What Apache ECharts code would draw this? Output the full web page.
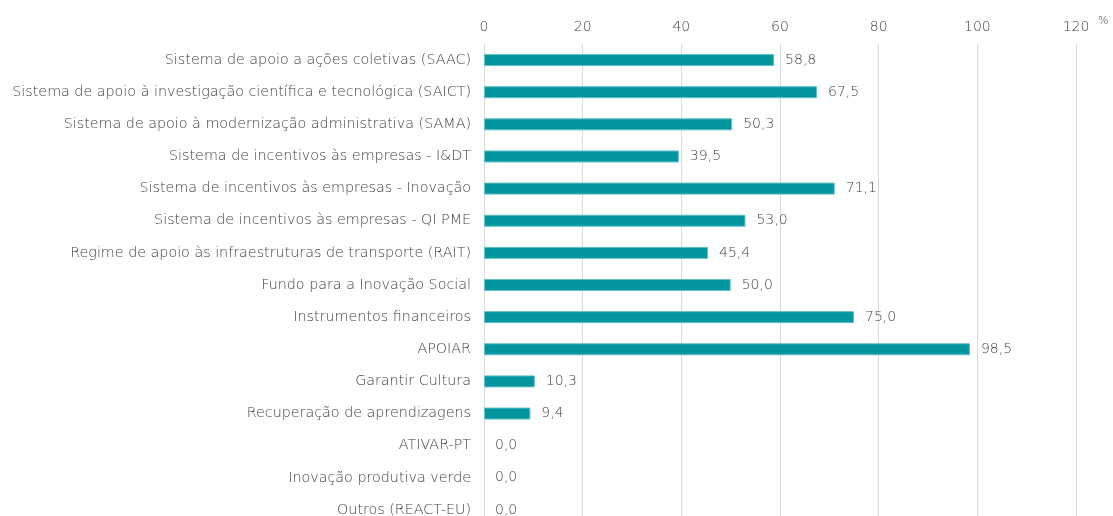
<!DOCTYPE html>
<html>
<head>
<meta charset="utf-8">
<script src="https://cdn.jsdelivr.net/npm/echarts@6/dist/echarts.min.js"></script>
<style>
  html, body { margin: 0; padding: 0; background: #fff; }
  #chart { width: 1113px; height: 516px; }
</style>
</head>
<body>
<div id="chart"></div>
<script>
var categories = [
    'Sistema de apoio a ações coletivas (SAAC)',
    'Sistema de apoio à investigação científica e tecnológica (SAICT)',
    'Sistema de apoio à modernização administrativa (SAMA)',
    'Sistema de incentivos às empresas - I&DT',
    'Sistema de incentivos às empresas - Inovação',
    'Sistema de incentivos às empresas - QI PME',
    'Regime de apoio às infraestruturas de transporte (RAIT)',
    'Fundo para a Inovação Social',
    'Instrumentos financeiros',
    'APOIAR',
    'Garantir Cultura',
    'Recuperação de aprendizagens',
    'ATIVAR-PT',
    'Inovação produtiva verde',
    'Outros (REACT-EU)'
];
var values = [58.8, 67.5, 50.3, 39.5, 71.1, 53.0, 45.4, 50.0, 75.0, 98.5, 10.3, 9.4, 0.0, 0.0, 0.0];
var xTicks = { min: 0, max: 120, interval: 20 };

var chart = echarts.init(document.getElementById('chart'));
var textColor = '#3f3f3f';
var font = '"DejaVu Sans", sans-serif';
var weight = 200;

var option = {
    animation: false,
    textStyle: { fontFamily: font, fontWeight: weight },
    grid: { left: 484, right: 37, top: 44, height: 482, outerBoundsMode: 'none' },
    xAxis: {
        type: 'value',
        position: 'top',
        min: xTicks.min,
        max: xTicks.max,
        interval: xTicks.interval,
        name: '%',
        nameLocation: 'end',
        nameGap: 22,
        nameTextStyle: { color: textColor, fontSize: 11, fontFamily: font, fontWeight: weight, verticalAlign: 'bottom', padding: [0, 0, 17, 0] },
        axisLine: { show: false },
        axisTick: { show: false },
        axisLabel: { color: textColor, fontSize: 14, margin: 10, fontFamily: font, fontWeight: weight },
        splitLine: { lineStyle: { color: '#d9d9d9', width: 1 } }
    },
    yAxis: {
        type: 'category',
        inverse: true,
        data: categories,
        axisLine: { show: false },
        axisTick: { show: false },
        axisLabel: { color: textColor, fontSize: 14.3, margin: 13, fontFamily: font, fontWeight: weight }
    },
    series: [{
        type: 'bar',
        data: values.map(function (v) {
            return v > 0 ? v : { value: v, itemStyle: { borderWidth: 0 } };
        }),
        barWidth: 12,
        itemStyle: { color: '#03969f', borderColor: '#62c0c6', borderWidth: 1 },
        label: {
            show: true,
            position: 'right',
            distance: 11,
            color: textColor,
            fontSize: 14,
            fontFamily: font,
            fontWeight: weight,
            formatter: function (p) { return p.value.toFixed(1).replace('.', ','); }
        }
    }]
};

chart.setOption(option);
</script>
</body>
</html>
